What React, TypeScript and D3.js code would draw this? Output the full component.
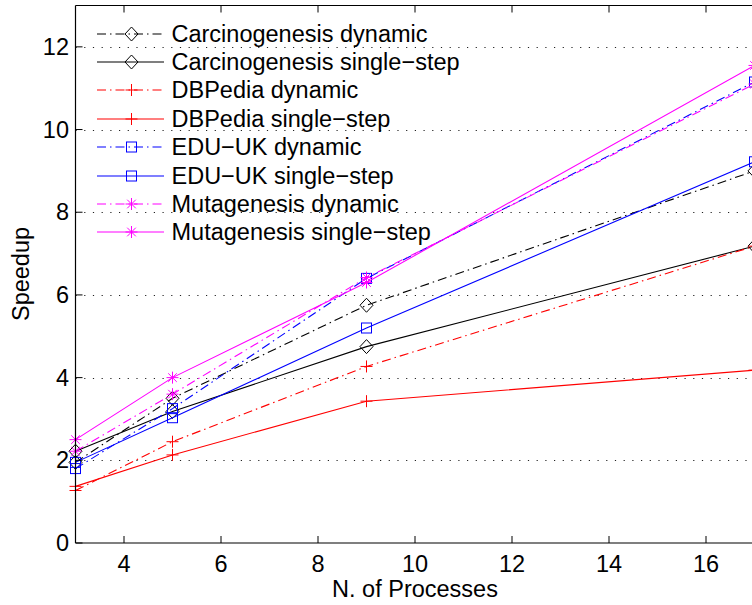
import React from "react";
import * as d3 from "d3";

const processes = [3, 5, 9, 17];
const seriesNames = [
  "Carcinogenesis dynamic",
  "Carcinogenesis single\u2212step",
  "DBPedia dynamic",
  "DBPedia single\u2212step",
  "EDU\u2212UK dynamic",
  "EDU\u2212UK single\u2212step",
  "Mutagenesis dynamic",
  "Mutagenesis single\u2212step",
];
const carcDynamic = [1.95, 3.5, 5.75, 9.0];
const carcSingle = [2.22, 3.18, 4.75, 7.18];
const dbpDynamic = [1.27, 2.45, 4.27, 7.18];
const dbpSingle = [1.37, 2.13, 3.43, 4.18];
const eduDynamic = [1.8, 3.25, 6.4, 11.15];
const eduSingle = [1.95, 3.03, 5.2, 9.22];
const mutDynamic = [2.22, 3.6, 6.42, 11.1];
const mutSingle = [2.5, 4.0, 6.3, 11.55];
const xTicks = [4, 6, 8, 10, 12, 14, 16];
const yTicks = [0, 2, 4, 6, 8, 10, 12];

const seriesValues = [carcDynamic, carcSingle, dbpDynamic, dbpSingle, eduDynamic, eduSingle, mutDynamic, mutSingle];
const seriesColors = ["#000000", "#000000", "#ff0000", "#ff0000", "#0000ff", "#0000ff", "#ff00ff", "#ff00ff"];
const seriesMarkers = ["diamond", "diamond", "plus", "plus", "square", "square", "star", "star"];
const seriesDash = ["dashdot", "solid", "dashdot", "solid", "dashdot", "solid", "dashdot", "solid"];

const W = 752;
const H = 605;
const left = 75.5;
const right = 754.5;
const top = 5.5;
const bottom = 543;
const FONT = "'Liberation Sans', Arial, Helvetica, sans-serif";

function Marker({ type, cx, cy, color }: { type: string; cx: number; cy: number; color: string }) {
  const common = { fill: "none", stroke: color, strokeWidth: 1 };
  if (type === "diamond") {
    const w = 6.5, h = 7;
    return <path d={`M${cx},${cy - h}L${cx + w},${cy}L${cx},${cy + h}L${cx - w},${cy}Z`} {...common} />;
  }
  if (type === "square") {
    const s = 5;
    return <rect x={cx - s} y={cy - s} width={2 * s} height={2 * s} {...common} />;
  }
  if (type === "plus") {
    const s = 6;
    return <path d={`M${cx - s},${cy}H${cx + s}M${cx},${cy - s}V${cy + s}`} {...common} />;
  }
  const s = 6, d = 4.3;
  return (
    <path
      d={`M${cx - s},${cy}H${cx + s}M${cx},${cy - s}V${cy + s}M${cx - d},${cy - d}L${cx + d},${cy + d}M${cx - d},${cy + d}L${cx + d},${cy - d}`}
      {...common}
    />
  );
}

export default function App() {
  const x = d3.scaleLinear().domain([3, 17]).range([left, right]);
  const y = d3.scaleLinear().domain([0, 13]).range([bottom, top]);
  const line = d3
    .line<[number, number]>()
    .x((d) => x(d[0]))
    .y((d) => y(d[1]));
  const dashFor = (k: string) => (k === "dashdot" ? "9,4,1.5,4" : undefined);

  return (
    <svg
      width={W}
      height={H}
      style={{ position: "fixed", left: 0, top: 0, background: "#fff" }}
      fontFamily={FONT}
    >
      <rect x={0} y={0} width={W} height={H} fill="#fff" />
      {yTicks.filter((t) => t > 0).map((t) => (
        <line
          key={"g" + t}
          x1={left}
          x2={right}
          y1={Math.round(y(t)) + 0.5}
          y2={Math.round(y(t)) + 0.5}
          stroke="#222"
          strokeWidth={1}
          strokeDasharray="1.2,7.5"
        />
      ))}
      {seriesValues.map((vals, i) => {
        const pts = processes.map((p, j) => [p, vals[j]] as [number, number]);
        return (
          <g key={"s" + i}>
            <path
              d={line(pts) || ""}
              fill="none"
              stroke={seriesColors[i]}
              strokeWidth={1.1}
              strokeDasharray={dashFor(seriesDash[i])}
            />
            {pts.map((p, j) => (
              <Marker key={j} type={seriesMarkers[i]} cx={x(p[0])} cy={y(p[1])} color={seriesColors[i]} />
            ))}
          </g>
        );
      })}
      <line x1={left} x2={left} y1={top} y2={bottom} stroke="#000" strokeWidth={1.2} />
      <line x1={left} x2={right} y1={bottom} y2={bottom} stroke="#000" strokeWidth={1.2} />
      <line x1={left} x2={right} y1={top} y2={top} stroke="#000" strokeWidth={1.2} />
      <line x1={right} x2={right} y1={top} y2={bottom} stroke="#000" strokeWidth={1.2} />
      {xTicks.map((t) => (
        <g key={"xt" + t}>
          <line x1={x(t)} x2={x(t)} y1={bottom} y2={bottom - 7} stroke="#000" />
          <line x1={x(t)} x2={x(t)} y1={top} y2={top + 7} stroke="#000" />
          <text x={x(t)} y={572} textAnchor="middle" fontSize={23.5} fill="#000">
            {t}
          </text>
        </g>
      ))}
      {yTicks.map((t) => (
        <g key={"yt" + t}>
          <line x1={left} x2={left + 7} y1={y(t)} y2={y(t)} stroke="#000" />
          <text x={69} y={y(t) + 8} textAnchor="end" fontSize={23.5} fill="#000">
            {t}
          </text>
        </g>
      ))}
      <text x={(left + right) / 2} y={597} textAnchor="middle" fontSize={23.5} fill="#000">
        N. of Processes
      </text>
      <text transform={`translate(29,274) rotate(-90)`} textAnchor="middle" fontSize={23.5} fill="#000">
        Speedup
      </text>
      {seriesNames.map((name, i) => {
        const cy = 33.5 + i * 28.4;
        const ly = Math.round(cy);
        return (
          <g key={"l" + i}>
            <line
              x1={97}
              x2={164}
              y1={ly}
              y2={ly}
              stroke={seriesColors[i]}
              strokeWidth={1.1}
              strokeDasharray={dashFor(seriesDash[i])}
            />
            <Marker type={seriesMarkers[i]} cx={131.5} cy={ly} color={seriesColors[i]} />
            <text x={171.5} y={cy + 8} fontSize={23.5} fill="#000">
              {name}
            </text>
          </g>
        );
      })}
    </svg>
  );
}
